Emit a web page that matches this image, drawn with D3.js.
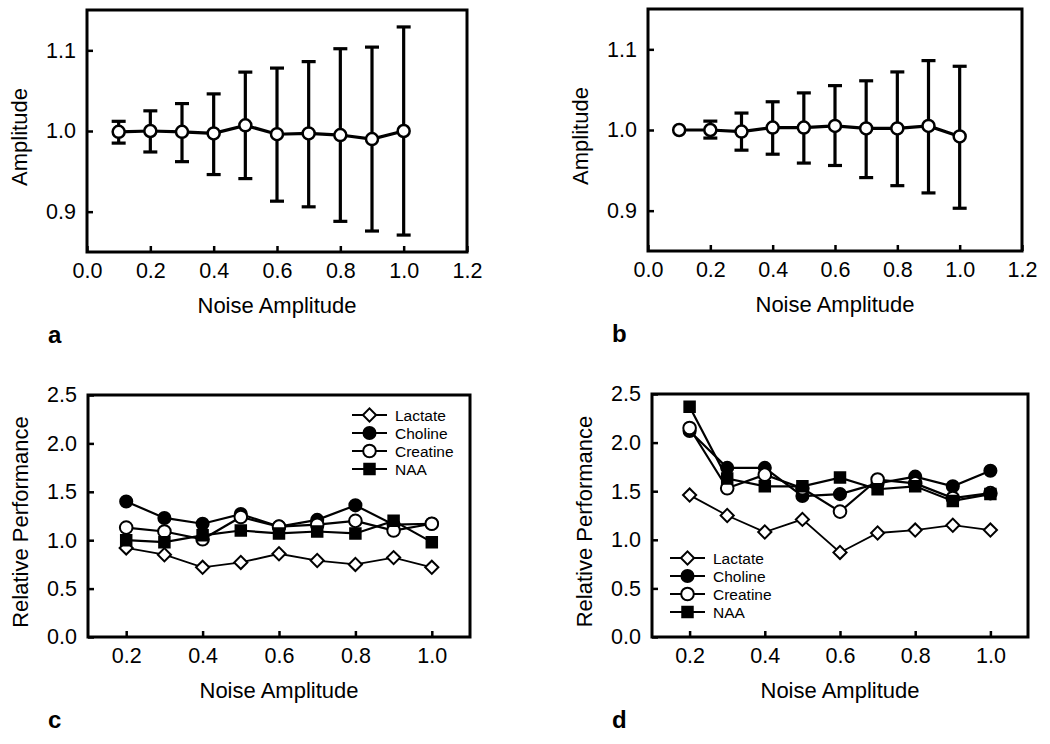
<!DOCTYPE html>
<html><head><meta charset="utf-8">
<script src="https://cdn.jsdelivr.net/npm/d3@7"></script>
<style>
body{margin:0;background:#fff}
svg{display:block}
text{font-family:'Liberation Sans',Arial,Helvetica,sans-serif;fill:#000}
</style>
</head><body>
<svg id="chart" width="1050" height="744"></svg>
<script>
// ---- data ----
const noiseAB = [0.1, 0.2, 0.3, 0.4, 0.5, 0.6, 0.7, 0.8, 0.9, 1.0];
const meanA  = [0.999, 1.000, 0.999, 0.997, 1.007, 0.996, 0.997, 0.995, 0.990, 1.000];
const upperA = [1.012, 1.025, 1.034, 1.046, 1.073, 1.078, 1.086, 1.102, 1.104, 1.129];
const lowerA = [0.985, 0.974, 0.962, 0.946, 0.941, 0.913, 0.906, 0.888, 0.876, 0.871];
const meanB  = [1.000, 1.000, 0.998, 1.003, 1.003, 1.005, 1.002, 1.002, 1.005, 0.992];
const upperB = [1.000, 1.011, 1.021, 1.035, 1.046, 1.055, 1.061, 1.072, 1.086, 1.079];
const lowerB = [1.000, 0.990, 0.975, 0.970, 0.959, 0.956, 0.941, 0.931, 0.922, 0.903];

const noiseCD = [0.2, 0.3, 0.4, 0.5, 0.6, 0.7, 0.8, 0.9, 1.0];
const seriesNames = ["Lactate", "Choline", "Creatine", "NAA"];
const lactateC  = [0.92, 0.85, 0.72, 0.77, 0.86, 0.79, 0.75, 0.82, 0.72];
const cholineC  = [1.40, 1.23, 1.17, 1.27, 1.14, 1.21, 1.36, 1.16, 1.17];
const creatineC = [1.13, 1.09, 1.01, 1.24, 1.14, 1.16, 1.20, 1.10, 1.17];
const naaC      = [1.00, 0.98, 1.05, 1.10, 1.07, 1.09, 1.07, 1.20, 0.98];
const lactateD  = [1.46, 1.25, 1.08, 1.21, 0.87, 1.07, 1.10, 1.15, 1.10];
const cholineD  = [2.12, 1.74, 1.74, 1.45, 1.47, 1.58, 1.65, 1.55, 1.71];
const creatineD = [2.15, 1.53, 1.67, 1.53, 1.29, 1.62, 1.58, 1.43, 1.48];
const naaD      = [2.37, 1.63, 1.55, 1.55, 1.64, 1.52, 1.55, 1.40, 1.47];

const xTicksAB = [0.0, 0.2, 0.4, 0.6, 0.8, 1.0, 1.2];
const yTicksAB = [0.9, 1.0, 1.1];
const xTicksCD = [0.2, 0.4, 0.6, 0.8, 1.0];
const yTicksCD = [0.0, 0.5, 1.0, 1.5, 2.0, 2.5];
const xTitle = "Noise Amplitude";
const yTitleAB = "Amplitude";
const yTitleCD = "Relative Performance";

// ---- drawing ----
const svg = d3.select("#chart");
const fmt = d3.format(".1f");

function frame(box, xDomain, yDomain, xTicks, yTicks, yTitle, letter, letterX) {
  const x = d3.scaleLinear().domain(xDomain).range([box.l, box.r]);
  const y = d3.scaleLinear().domain(yDomain).range([box.b, box.t]);
  const g = svg.append("g");
  const ax = g.append("g").attr("transform", `translate(0,${box.b})`)
    .call(d3.axisBottom(x).tickValues(xTicks).tickFormat(fmt).tickSize(-6).tickPadding(11));
  const ay = g.append("g").attr("transform", `translate(${box.l},0)`)
    .call(d3.axisLeft(y).tickValues(yTicks).tickFormat(fmt).tickSize(-6).tickPadding(11));
  [ax, ay].forEach(a => {
    a.select(".domain").remove();
    a.selectAll(".tick line").attr("stroke", "#000").attr("stroke-width", 2.5);
    a.selectAll(".tick text").attr("font-size", 21.5).attr("fill", "#000");
  });
  g.append("rect").attr("x", box.l).attr("y", box.t)
    .attr("width", box.r - box.l).attr("height", box.b - box.t)
    .attr("fill", "none").attr("stroke", "#000").attr("stroke-width", 3);
  g.append("text").attr("x", (box.l + box.r) / 2).attr("y", box.b + 61)
    .attr("text-anchor", "middle").attr("font-size", 22).text(xTitle);
  const cy = (box.t + box.b) / 2 + 6, cx = box.l - 68;
  g.append("text").attr("transform", `translate(${cx},${cy}) rotate(-90)`)
    .attr("text-anchor", "middle").attr("dominant-baseline", "central")
    .attr("font-size", 22).text(yTitle);
  g.append("text").attr("x", letterX).attr("y", box.b + 91)
    .attr("font-size", 24).attr("font-weight", "bold").text(letter);
  return {x, y, g};
}

function errorPanel(box, mean, upper, lower, letter, letterX) {
  const {x, y, g} = frame(box, [0, 1.2], [0.85, 1.15], xTicksAB, yTicksAB, yTitleAB, letter, letterX);
  const pts = noiseAB.map((n, i) => ({n, m: mean[i], u: upper[i], lo: lower[i]}));
  const bars = pts.filter(p => p.u - p.lo > 0.001);
  g.selectAll(".eb").data(bars).join("line")
    .attr("x1", d => x(d.n)).attr("x2", d => x(d.n))
    .attr("y1", d => y(d.u)).attr("y2", d => y(d.lo))
    .attr("stroke", "#000").attr("stroke-width", 3.2);
  ["u", "lo"].forEach(k => {
    g.selectAll(".cap" + k).data(bars).join("line")
      .attr("x1", d => x(d.n) - 7).attr("x2", d => x(d.n) + 7)
      .attr("y1", d => y(d[k])).attr("y2", d => y(d[k]))
      .attr("stroke", "#000").attr("stroke-width", 3.2);
  });
  g.append("path").datum(pts)
    .attr("d", d3.line().x(d => x(d.n)).y(d => y(d.m)))
    .attr("fill", "none").attr("stroke", "#000").attr("stroke-width", 3.2);
  g.selectAll(".pt").data(pts).join("circle")
    .attr("cx", d => x(d.n)).attr("cy", d => y(d.m)).attr("r", 6)
    .attr("fill", "#fff").attr("stroke", "#000").attr("stroke-width", 2.5);
}

const markerStyle = {
  Lactate:  {size: 110, fill: "#fff", lw: 1.8},
  Choline:  {size: 115, fill: "#000", lw: 2.2},
  Creatine: {size: 125, fill: "#fff", lw: 2.2},
  NAA:      {size: 110, fill: "#000", lw: 2.2}
};

function drawMarker(g, name, cx, cy) {
  const s = markerStyle[name];
  const type = name === "Lactate" ? d3.symbolSquare2 : (name === "NAA" ? d3.symbolSquare : d3.symbolCircle);
  const sym = d3.symbol().type(type).size(s.size);
  const p = g.append("path").attr("d", sym())
    .attr("fill", s.fill).attr("stroke", "#000").attr("stroke-width", 2);
  p.attr("transform", name === "Lactate" ? `translate(${cx},${cy}) rotate(45)` : `translate(${cx},${cy})`);
}

function perfPanel(box, series, letter, letterX, legendPos) {
  const {x, y, g} = frame(box, [0.1, 1.1], [0, 2.5], xTicksCD, yTicksCD, yTitleCD, letter, letterX);
  series.forEach((vals, si) => {
    const name = seriesNames[si];
    g.append("path").datum(vals)
      .attr("d", d3.line().x((d, i) => x(noiseCD[i])).y(d => y(d)))
      .attr("fill", "none").attr("stroke", "#000").attr("stroke-width", markerStyle[name].lw);
  });
  series.forEach((vals, si) => {
    const name = seriesNames[si];
    vals.forEach((v, i) => drawMarker(g, name, x(noiseCD[i]), y(v)));
  });
  const lg = g.append("g");
  seriesNames.forEach((name, i) => {
    const yy = legendPos.y + i * 18;
    lg.append("line").attr("x1", legendPos.x).attr("x2", legendPos.x + 35)
      .attr("y1", yy).attr("y2", yy).attr("stroke", "#000").attr("stroke-width", 2);
    drawMarker(lg, name, legendPos.x + 17.5, yy);
    lg.append("text").attr("x", legendPos.x + 43).attr("y", yy)
      .attr("dominant-baseline", "central").attr("font-size", 15.5).text(name);
  });
}

errorPanel({l: 87, r: 467, t: 10, b: 252}, meanA, upperA, lowerA, "a", 48);
errorPanel({l: 648, r: 1022, t: 9, b: 251}, meanB, upperB, lowerB, "b", 612);
perfPanel({l: 88, r: 470, t: 395, b: 637}, [lactateC, cholineC, creatineC, naaC], "c", 48, {x: 352, y: 415});
perfPanel({l: 652, r: 1028, t: 394, b: 637}, [lactateD, cholineD, creatineD, naaD], "d", 612, {x: 670, y: 558});
</script>
</body></html>
